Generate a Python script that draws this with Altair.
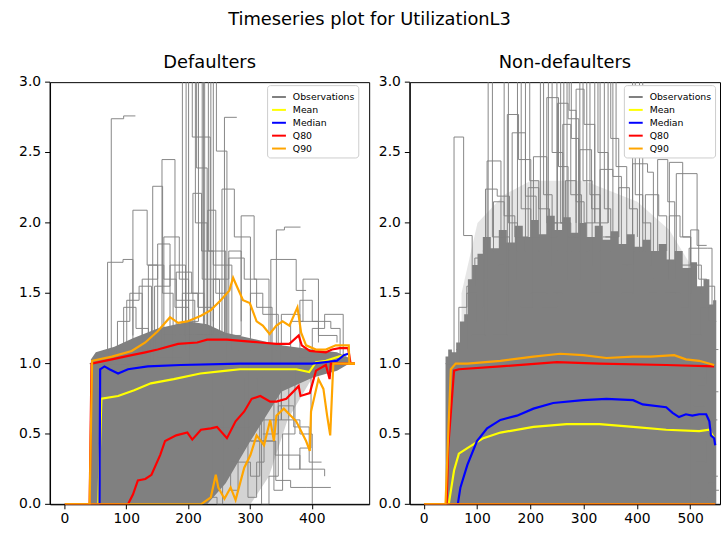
import altair as alt
import pandas as pd

# ---------------- categories / colours ----------------
SERIES = ["Observations", "Mean", "Median", "Q80", "Q90"]
COLORS = ["#808080", "#ffff00", "#0000ff", "#ff0000", "#ffa500"]

# ---------------- axis ticks ----------------
Y_TICKS = [0.0, 0.5, 1.0, 1.5, 2.0, 2.5, 3.0]
L_X_TICKS = [0, 100, 200, 300, 400]
R_X_TICKS = [0, 100, 200, 300, 400, 500]

# ---------------- Defaulters: summary curves ----------------
L_MEAN_X = [0, 54, 59, 86, 112, 139, 176, 219, 262, 283, 320, 374, 395, 406, 422, 443, 453]
L_MEAN_Y = [0, 0, 0.75, 0.77, 0.81, 0.86, 0.89, 0.93, 0.95, 0.96, 0.96, 0.96, 0.94, 1.01, 1.02, 1.05, 1.06]
L_MED_X = [0, 56, 57, 64, 72, 86, 102, 134, 187, 283, 400, 440, 451, 458]
L_MED_Y = [0, 0, 0.96, 0.98, 0.96, 0.93, 0.96, 0.98, 0.99, 1.0, 1.0, 1.02, 1.06, 1.07]
L_Q80_X = [0, 40, 43, 76, 108, 130, 150, 183, 214, 230, 262, 290, 316, 342, 363, 378, 383, 396, 422, 432, 444, 458, 462, 469]
L_Q80_Y = [0, 0, 1.0, 1.03, 1.06, 1.08, 1.10, 1.14, 1.15, 1.17, 1.17, 1.16, 1.15, 1.14, 1.14, 1.20, 1.13, 1.09, 1.08, 1.10, 1.11, 1.11, 1.0, 1.0]
L_Q80_LOW_X = [0, 102, 110, 118, 130, 140, 154, 162, 180, 198, 206, 220, 236, 246, 262, 276, 290, 302, 316, 332, 342, 358, 378, 381, 396, 406, 422, 428, 430, 469]
L_Q80_LOW_Y = [0, 0, 0.07, 0.17, 0.18, 0.21, 0.35, 0.45, 0.49, 0.51, 0.46, 0.53, 0.54, 0.55, 0.47, 0.59, 0.66, 0.75, 0.77, 0.73, 0.73, 0.75, 0.84, 0.77, 0.79, 0.95, 0.99, 0.89, 1.0, 1.0]
L_Q90_X = [0, 40, 44, 76, 108, 130, 150, 170, 183, 198, 220, 236, 252, 266, 272, 278, 288, 299, 310, 320, 331, 342, 352, 363, 376, 382, 390, 406, 422, 438, 459, 460, 469]
L_Q90_Y = [0, 0, 1.02, 1.05, 1.09, 1.15, 1.23, 1.33, 1.29, 1.30, 1.34, 1.38, 1.45, 1.52, 1.61, 1.55, 1.45, 1.43, 1.30, 1.27, 1.21, 1.27, 1.30, 1.27, 1.40, 1.22, 1.13, 1.10, 1.10, 1.13, 1.13, 1.0, 1.0]
L_Q90_LOW_X = [0, 220, 236, 244, 248, 258, 268, 276, 290, 300, 310, 322, 332, 338, 342, 354, 374, 390, 396, 398, 410, 418, 424, 429, 434, 469]
L_Q90_LOW_Y = [0, 0, 0.05, 0.21, 0.12, 0.04, 0.12, 0.03, 0.26, 0.35, 0.49, 0.42, 0.60, 0.45, 0.63, 0.68, 0.59, 0.45, 0.38, 0.66, 0.89, 0.82, 0.63, 0.49, 1.0, 1.0]

# ---------------- Non-defaulters: summary curves ----------------
R_MEAN_X = [0, 46, 56, 65, 81, 111, 143, 205, 267, 329, 392, 454, 516, 535, 544]
R_MEAN_Y = [0, 0, 0.24, 0.36, 0.40, 0.47, 0.51, 0.55, 0.57, 0.57, 0.55, 0.53, 0.52, 0.53, 0.47]
R_MED_X = [0, 63, 68, 81, 99, 118, 143, 174, 205, 242, 298, 342, 392, 410, 454, 466, 478, 491, 503, 516, 529, 535, 538, 544, 546]
R_MED_Y = [0, 0, 0.12, 0.28, 0.45, 0.54, 0.60, 0.63, 0.68, 0.72, 0.74, 0.75, 0.74, 0.71, 0.69, 0.65, 0.62, 0.64, 0.63, 0.64, 0.64, 0.59, 0.49, 0.47, 0.42]
R_Q80_X = [0, 42, 45, 56, 65, 143, 249, 329, 454, 544]
R_Q80_Y = [0, 0, 0.4, 0.95, 0.96, 0.98, 1.01, 1.0, 0.99, 0.98]
R_Q80_LOW_X = [0, 546]
R_Q80_LOW_Y = [0, 0]
R_Q90_X = [0, 40, 43, 50, 59, 81, 143, 205, 255, 298, 342, 392, 425, 469, 491, 516, 544]
R_Q90_Y = [0, 0, 0.3, 0.96, 1.0, 1.0, 1.02, 1.05, 1.07, 1.06, 1.04, 1.05, 1.05, 1.06, 1.03, 1.02, 0.99]
R_Q90_LOW_X = [0, 546]
R_Q90_LOW_Y = [0, 0]

# ---------------- dense observation mass ----------------
L_MASS_X = [42, 50, 80, 110, 150, 200, 230, 260, 300, 350, 400, 440, 460]
L_MASS_TOP = [1.03, 1.08, 1.12, 1.18, 1.25, 1.3, 1.28, 1.22, 1.18, 1.13, 1.1, 1.08, 1.04]
L_MASS_BOT = [0, 0, 0, 0, 0, 0, 0.0, 0.15, 0.45, 0.8, 0.9, 0.95, 1.0]
L_HAZE_X = [220, 260, 300, 330, 360, 400]
L_HAZE_TOP = [1.0, 1.0, 1.0, 1.0, 1.0, 1.0]
L_HAZE_BOT = [0, 0, 0, 0.2, 0.6, 0.9]

R_MASS_X = [40, 45, 52, 60, 67, 75, 82, 90, 100, 110, 125, 140, 155, 170, 185, 200, 215, 230, 245, 260,
            275, 290, 305, 320, 335, 350, 365, 380, 395, 410, 425, 440, 455, 470, 485, 500, 512, 524,
            535, 542, 548]
R_MASS_TOP = [1.05, 1.1, 1.08, 1.15, 1.3, 1.35, 1.6, 1.7, 1.78, 1.9, 1.82, 1.95, 1.86, 1.98, 1.9, 2.02,
              1.92, 2.05, 1.95, 2.04, 1.93, 2.0, 1.9, 1.98, 1.88, 1.94, 1.85, 1.92, 1.83, 1.88, 1.8, 1.85,
              1.74, 1.8, 1.68, 1.72, 1.55, 1.6, 1.42, 1.45, 1.0]
R_MASS_BOT = [0] * 41
R_HAZE_X = [70, 100, 150, 200, 300, 400, 460, 500]
R_HAZE_TOP = [1.5, 2.0, 2.2, 2.3, 2.3, 2.15, 1.95, 1.7]
R_HAZE_BOT = [0] * 8

# ---------------- individual observation step lines ----------------
L_OBS = [
    ([40, 75, 95, 114], [1.0, 2.74, 2.76, 2.76]),
    ([150, 190, 206, 235], [1.05, 3.4, 2.61, 1.1]),
    ([175, 196, 213, 230], [1.1, 3.4, 2.39, 1.0]),
    ([200, 226, 245, 262], [1.2, 3.4, 2.51, 1.1]),
    ([232, 258, 278], [1.2, 2.75, 2.75]),
    ([232, 254, 274, 300], [1.0, 2.24, 1.9, 1.2]),
    ([130, 157, 178, 200], [1.1, 2.45, 1.4, 1.1]),
    ([118, 142, 158, 175], [1.0, 2.26, 1.5, 1.0]),
    ([90, 110, 133, 150], [1.0, 2.09, 1.7, 1.1]),
    ([300, 342, 355, 381], [1.1, 1.95, 1.97, 1.97]),
    ([290, 333, 374, 390], [1.0, 1.74, 1.52, 1.52]),
    ([50, 69, 94, 110], [1.0, 1.72, 1.74, 1.2]),
    ([250, 285, 306, 330], [1.2, 2.05, 1.6, 1.1]),
    ([190, 207, 221, 240], [1.0, 2.21, 1.8, 1.3]),
    ([215, 231, 244, 262], [1.2, 2.09, 1.5, 1.1]),
    ([195, 216, 222, 250], [1.3, 3.4, 1.6, 1.0]),
    ([205, 224, 232, 260], [1.1, 3.4, 1.8, 1.0]),
    ([180, 200, 211, 230], [1.0, 3.4, 2.0, 1.2]),
    ([185, 236, 240, 270], [1.2, 3.4, 1.7, 1.1]),
    ([300, 341, 365, 390, 430], [0.45, 0.17, 0.12, 0.12, 0.12]),
    ([250, 300, 340, 380, 420], [0.55, 0.45, 0.35, 0.25, 0.2]),
    ([260, 310, 350, 380, 400], [0.9, 0.8, 0.6, 0.5, 0.0]),
    ([100, 125, 150, 170], [1.0, 1.6, 1.85, 1.0]),
    ([140, 160, 185, 200], [1.1, 1.9, 1.6, 1.0]),
    ([330, 350, 380, 410, 440], [1.0, 1.35, 1.3, 1.2, 1.15]),
    ([360, 380, 400, 430, 445], [1.0, 1.45, 1.3, 1.25, 1.0]),
    ([70, 100, 120, 140], [1.0, 1.45, 1.55, 1.0]),
    ([110, 135, 160, 180, 210], [1.0, 1.7, 1.6, 1.45, 1.0]),
    ([240, 265, 290, 310, 335], [1.0, 1.75, 1.6, 1.4, 1.0]),
    ([270, 300, 315, 350], [0.3, 0.2, 0.6, 0.9]),
    ([320, 345, 370, 395, 415], [0.5, 0.7, 0.55, 0.3, 0.3]),
    ([225, 238, 246, 255], [0.9, 0.05, 0.0, 0.7]),
    ([255, 268, 280, 292], [1.0, 0.1, 0.4, 0.9]),
    ([285, 296, 310, 322], [1.0, 0.05, 0.3, 0.95]),
    ([300, 318, 330, 345], [0.9, 0.0, 0.2, 1.0]),
    ([320, 338, 352, 372], [1.0, 0.1, 0.5, 1.0]),
    ([340, 362, 380, 398], [0.95, 0.25, 0.4, 1.0]),
    ([60, 85, 105, 125], [1.05, 1.3, 1.5, 1.1]),
    ([120, 145, 170, 195], [1.1, 1.55, 1.7, 1.2]),
    ([160, 180, 205, 225], [1.2, 1.65, 1.5, 1.3]),
    ([220, 240, 265, 285], [1.2, 1.6, 1.8, 1.3]),
    ([280, 300, 320, 345], [1.1, 1.5, 1.35, 1.1]),
    ([340, 365, 385, 410], [1.1, 1.3, 1.6, 1.15]),
    ([380, 400, 420, 450], [1.05, 1.25, 1.35, 1.05]),
    ([80, 95, 115, 135], [1.1, 1.4, 1.25, 1.1]),
    ([170, 190, 215, 240], [1.15, 1.5, 1.4, 1.2]),
]

R_OBS = [
    ([40, 56, 74, 90], [1.0, 2.61, 1.91, 1.2]),
    ([90, 115, 137, 160], [1.2, 2.24, 2.19, 1.3]),
    ([100, 118, 144, 160], [1.3, 2.44, 1.9, 1.4]),
    ([130, 156, 177, 200], [1.2, 2.77, 2.45, 1.5]),
    ([150, 165, 190, 210], [1.3, 2.64, 2.19, 1.6]),
    ([200, 230, 252, 270], [1.5, 2.89, 2.4, 1.6]),
    ([220, 250, 270, 290], [1.4, 2.85, 2.74, 1.7]),
    ([240, 260, 275, 295], [1.5, 2.70, 2.2, 1.5]),
    ([180, 205, 230, 250], [1.4, 2.47, 2.0, 1.5]),
    ([270, 292, 314, 330], [1.6, 2.52, 2.1, 1.5]),
    ([310, 330, 354, 370], [1.5, 2.38, 2.33, 1.6]),
    ([370, 391, 419, 430], [1.5, 2.42, 2.36, 1.7]),
    ([420, 438, 457, 470], [1.5, 2.45, 2.15, 1.6]),
    ([440, 460, 485, 500], [1.6, 2.43, 1.9, 1.5]),
    ([450, 473, 512, 530], [1.5, 2.35, 1.84, 1.84]),
    ([480, 497, 531, 540], [1.4, 1.82, 1.82, 1.4]),
    ([100, 120, 128, 150], [1.6, 3.4, 1.9, 1.5]),
    ([140, 150, 158, 175], [1.7, 3.4, 2.0, 1.6]),
    ([160, 175, 182, 200], [1.8, 3.4, 2.1, 1.7]),
    ([180, 190, 198, 215], [1.8, 3.4, 2.3, 1.8]),
    ([200, 218, 224, 240], [1.9, 3.4, 2.2, 1.7]),
    ([215, 233, 240, 260], [1.8, 3.4, 2.5, 1.9]),
    ([235, 249, 256, 275], [1.9, 3.4, 2.0, 1.8]),
    ([250, 268, 276, 290], [1.8, 3.4, 2.6, 1.8]),
    ([270, 292, 298, 315], [1.9, 3.4, 2.3, 1.7]),
    ([285, 305, 311, 330], [1.8, 3.4, 2.2, 1.9]),
    ([310, 330, 338, 350], [1.8, 3.4, 2.1, 1.8]),
    ([335, 354, 360, 380], [1.9, 3.4, 2.4, 1.7]),
    ([370, 391, 396, 410], [1.7, 3.4, 2.2, 1.8]),
    ([390, 404, 410, 425], [1.8, 3.4, 2.0, 1.7]),
    ([255, 262, 272, 285], [2.0, 3.4, 2.8, 2.0]),
    ([300, 320, 326, 345], [2.0, 3.4, 2.5, 2.0]),
    ([320, 345, 350, 365], [2.0, 3.4, 2.6, 1.9]),
    ([280, 285, 300, 320], [1.9, 2.95, 2.7, 2.0]),
    ([500, 520, 535, 548], [1.2, 1.4, 1.3, 1.3]),
    ([510, 530, 545, 552], [1.0, 1.55, 1.1, 1.1]),
    ([505, 525, 540, 550], [0.7, 0.9, 0.6, 0.6]),
    ([510, 528, 542, 551], [0.3, 0.45, 0.2, 0.2]),
    ([60, 80, 95, 110], [1.1, 1.55, 1.75, 1.4]),
    ([45, 65, 80, 100], [1.0, 1.4, 1.5, 1.3]),
    ([430, 460, 480, 500, 520], [1.6, 2.05, 1.9, 1.7, 1.5]),
    ([460, 480, 500, 515, 530], [1.5, 1.7, 1.95, 1.6, 1.5]),
    ([110, 130, 150, 170], [1.8, 2.15, 2.05, 1.9]),
    ([170, 195, 215, 235], [1.9, 2.25, 2.1, 1.95]),
    ([240, 265, 285, 300], [2.0, 2.3, 2.15, 2.0]),
    ([340, 365, 385, 400], [1.9, 2.25, 2.1, 1.9]),
    ([395, 415, 440, 455], [1.8, 2.2, 2.05, 1.8]),
    ([515, 528, 540, 552], [0.85, 1.0, 0.8, 0.8]),
    ([518, 532, 544, 553], [0.05, 0.15, 0.1, 0.1]),
]

FONT = "DejaVu Sans"


def curves_df(items):
    rows = []
    for series, cid, xs, ys in items:
        for i, (x, y) in enumerate(zip(xs, ys)):
            rows.append({"x": x, "y": y, "series": series, "id": cid, "o": i})
    return pd.DataFrame(rows)


def obs_df(obs, tag):
    rows = []
    for k, (xs, ys) in enumerate(obs):
        for i, (x, y) in enumerate(zip(xs, ys)):
            rows.append({"x": x, "y": y, "series": "Observations", "id": f"{tag}{k}", "o": i})
    return pd.DataFrame(rows)


def band_df(xs, top, bot):
    return pd.DataFrame({"x": xs, "top": top, "bot": bot})


def panel(title, xdom, xticks, width, mass, mass_interp, haze, haze_op, obs, curves, legend_x):
    xs = alt.Scale(domain=xdom, nice=False, zero=False)
    ys = alt.Scale(domain=[0, 3], nice=False)
    xax = alt.Axis(values=xticks, title=None, grid=False, tickSize=5, labelFontSize=14,
                   labelFont=FONT, labelColor="black", domainColor="black", tickColor="black",
                   labelPadding=3, format="d", labelFlush=False, translate=0)
    yax = alt.Axis(values=Y_TICKS, title=None, grid=False, tickSize=5, labelFontSize=14,
                   labelFont=FONT, labelColor="black", domainColor="black", tickColor="black",
                   labelPadding=4, format=".1f", minExtent=30, maxExtent=30, labelFlush=False,
                   translate=0)
    color = alt.Color(
        "series:N",
        scale=alt.Scale(domain=SERIES, range=COLORS),
        legend=alt.Legend(title=None, orient="none", legendX=legend_x, legendY=3,
                          fillColor="white", strokeColor="#cccccc", cornerRadius=3,
                          padding=4, labelFont=FONT, labelFontSize=9.4, labelColor="black",
                          symbolType="stroke", symbolSize=196, symbolStrokeWidth=2,
                          symbolOpacity=1, rowPadding=0, labelOffset=6),
    )
    base_x = alt.X("x:Q", scale=xs, axis=xax)
    base_y = alt.Y("y:Q", scale=ys, axis=yax)

    layers = []
    for (bx, bt, bb), op, interp in [(mass, 1.0, mass_interp), (haze, haze_op, "linear")]:
        layers.append(
            alt.Chart(band_df(bx, bt, bb)).mark_area(
                clip=True, color="#808080", opacity=op, interpolate=interp
            ).encode(
                x=alt.X("x:Q", scale=xs, axis=xax),
                y=alt.Y("top:Q", scale=ys, axis=yax),
                y2="bot:Q",
            )
        )
    layers.append(
        alt.Chart(obs).mark_line(clip=True, interpolate="step-after", strokeWidth=1, opacity=0.95).encode(
            x=base_x, y=base_y, color=color, detail="id:N", order="o:Q"
        )
    )
    for s in ["Mean", "Median", "Q80", "Q90"]:
        sub = curves[curves["series"] == s]
        layers.append(
            alt.Chart(sub).mark_line(clip=True, strokeWidth=2.2).encode(
                x=base_x, y=base_y, color=color, detail="id:N", order="o:Q"
            )
        )
    return alt.layer(*layers).properties(
        width=width, height=426,
        title=alt.TitleParams(title, fontSize=18, font=FONT, fontWeight="normal", color="black",
                              offset=3, anchor="middle"),
    )


left_curves = curves_df([
    ("Mean", "m", L_MEAN_X, L_MEAN_Y),
    ("Median", "md", L_MED_X, L_MED_Y),
    ("Q80", "q80", L_Q80_X, L_Q80_Y),
    ("Q80", "q80l", L_Q80_LOW_X, L_Q80_LOW_Y),
    ("Q90", "q90", L_Q90_X, L_Q90_Y),
    ("Q90", "q90l", L_Q90_LOW_X, L_Q90_LOW_Y),
])
right_curves = curves_df([
    ("Mean", "m", R_MEAN_X, R_MEAN_Y),
    ("Median", "md", R_MED_X, R_MED_Y),
    ("Q80", "q80", R_Q80_X, R_Q80_Y),
    ("Q80", "q80l", R_Q80_LOW_X, R_Q80_LOW_Y),
    ("Q90", "q90", R_Q90_X, R_Q90_Y),
    ("Q90", "q90l", R_Q90_LOW_X, R_Q90_LOW_Y),
])

left = panel("Defaulters", [-24, 492], L_X_TICKS, 322,
             (L_MASS_X, L_MASS_TOP, L_MASS_BOT), "linear",
             (L_HAZE_X, L_HAZE_TOP, L_HAZE_BOT), 0.35,
             obs_df(L_OBS, "l"), left_curves, 219)
right = panel("Non-defaulters", [-27, 555], R_X_TICKS, 313,
              (R_MASS_X, R_MASS_TOP, R_MASS_BOT), "step-after",
              (R_HAZE_X, R_HAZE_TOP, R_HAZE_BOT), 0.2,
              obs_df(R_OBS, "r"), right_curves, 216)

chart = alt.hconcat(left, right, spacing=8).resolve_scale(
    color="independent", x="independent"
).properties(
    title=alt.TitleParams("Timeseries plot for UtilizationL3", fontSize=18, font=FONT,
                          fontWeight="normal", color="black", anchor="middle", offset=25),
    padding={"left": 18.5, "top": 8.5, "right": 0, "bottom": 0},
    background="white",
).configure_view(stroke="black", strokeWidth=1)

chart.save("out.html", embed_options={"renderer": "svg", "actions": False})
